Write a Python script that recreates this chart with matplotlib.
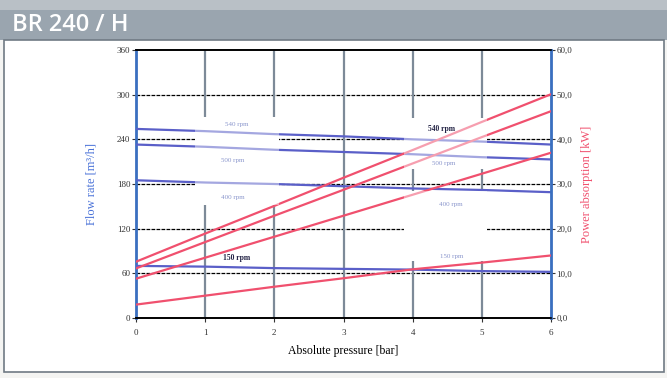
import numpy as np
import matplotlib.pyplot as plt
from matplotlib.patches import Rectangle

# data
pressure = [0, 1, 2, 3, 4, 5, 6]

flow_540 = [254, 251, 247, 244, 240, 237, 233]
flow_500 = [233, 230, 226, 223, 220, 216, 213]
flow_400 = [185, 182, 180, 177, 174, 172, 169]
flow_150 = [70, 69, 67, 66, 65, 63, 62]

power_a = [12.6, 18.9, 25.1, 31.4, 37.6, 43.9, 50.1]
power_b = [11.1, 17.0, 22.9, 28.7, 34.6, 40.5, 46.3]
power_c = [8.8, 13.5, 18.2, 22.9, 27.6, 32.3, 37.0]
power_d = [3.0, 5.0, 7.0, 8.9, 10.9, 12.4, 14.0]

flow_ticks = [0, 60, 120, 180, 240, 300, 360]
power_ticks = [0, 10, 20, 30, 40, 50, 60]
power_labels = ["0,0", "10,0", "20,0", "30,0", "40,0", "50,0", "60,0"]

# faded rpm labels sitting in the white boxes: (text, x, flow)
faded_labels = [
    ("540 rpm", 1.45, 260), ("500 rpm", 1.4, 212), ("400 rpm", 1.4, 162),
    ("500 rpm", 4.45, 208), ("400 rpm", 4.55, 152), ("150 rpm", 4.57, 83),
]
# dark rpm labels drawn on top
dark_labels = [("540 rpm", 4.42, 254), ("150 rpm", 1.45, 81)]

# white label boxes: (x0, x1, flow0, flow1)
label_boxes = [(0.86, 2.07, 152, 270), (3.88, 5.07, 200, 268), (3.88, 5.07, 76, 170)]

BLUE = "#5a5fc8"
RED = "#f0506e"
serif = ["Liberation Serif", "DejaVu Serif"]

fig = plt.figure(figsize=(6.67, 3.78), dpi=100)
fig.patch.set_facecolor("#f4f4f2")

# header bar and white panel (behind the axes)
fig.add_artist(Rectangle((0, 1 - 40 / 378), 1, 40 / 378, transform=fig.transFigure,
                         facecolor="#9aa5af", edgecolor="none", zorder=-5))
fig.add_artist(Rectangle((0, 1 - 10 / 378), 1, 10 / 378, transform=fig.transFigure,
                         facecolor="#b9c0c6", edgecolor="none", zorder=-5))
fig.add_artist(Rectangle((4 / 667, 1 - 372 / 378), 660 / 667, 332 / 378, transform=fig.transFigure,
                         facecolor="white", edgecolor="#707a84", linewidth=1.2, zorder=-5))
fig.text(12 / 667, 1 - 25 / 378, "BR 240 / H", color="white", fontsize=17, weight="semibold",
         family=["Open Sans", "DejaVu Sans"], va="center", ha="left")

ax = fig.add_axes([136 / 667, 1 - 318 / 378, 415 / 667, 268 / 378])
ax2 = ax.twinx()
ax.patch.set_alpha(0)

ax.set_xlim(0, 6)
ax.set_ylim(0, 360)
ax2.set_ylim(0, 60)

# grid
for v in flow_ticks[1:-1]:
    ax.axhline(v, color="black", linestyle=(0, (3, 1)), linewidth=0.9, zorder=1)
for p in pressure[1:-1]:
    ax.axvline(p, color="#7d8a98", linewidth=1.6, zorder=1)

# boxes hide the grid and fade the curves behind them
for x0, x1, y0, y1 in label_boxes:
    ax.add_patch(Rectangle((x0, y0), x1 - x0, y1 - y0, facecolor="white", edgecolor="none", zorder=2))

for f in [flow_540, flow_500, flow_400, flow_150]:
    ax.plot(pressure, f, color=BLUE, linewidth=1.6, zorder=3)
for pw in [power_a, power_b, power_c, power_d]:
    ax2.plot(pressure, pw, color=RED, linewidth=1.6, zorder=3)

ax2.patch.set_visible(False)
for x0, x1, y0, y1 in label_boxes:
    ax2.add_patch(Rectangle((x0, y0 / 6), x1 - x0, (y1 - y0) / 6, facecolor="white",
                            edgecolor="none", alpha=0.45, zorder=4))

for txt, x, y in faded_labels:
    ax2.text(x, y / 6, txt, fontsize=5, color="#8a96cc", family=serif, ha="center", va="center", zorder=5)
for txt, x, y in dark_labels:
    ax2.text(x, y / 6, txt, fontsize=5.5, color="#222244", weight="bold", family=serif,
             ha="center", va="center", zorder=5)

ax.set_xticks(pressure)
ax.set_yticks(flow_ticks)
ax2.set_yticks(power_ticks)
ax2.set_yticklabels(power_labels)
for a in [ax, ax2]:
    a.tick_params(labelsize=6.5, length=3, width=0.8, colors="#333333", pad=1)
    for lab in a.get_xticklabels() + a.get_yticklabels():
        lab.set_family(serif)
ax.tick_params(axis="x", pad=5)

ax.spines["left"].set_color("#3a6fc0")
ax.spines["left"].set_linewidth(2)
ax2.spines["right"].set_color("#3a6fc0")
ax2.spines["right"].set_linewidth(2)
for a in [ax, ax2]:
    a.spines["top"].set_linestyle((0, (3, 1)))
    a.spines["bottom"].set_linestyle((0, (3, 1)))
    a.spines["top"].set_linewidth(1.2)
    a.spines["bottom"].set_linewidth(1.2)
ax2.spines["left"].set_visible(False)

ax.set_xlabel("Absolute pressure [bar]", fontsize=8.5, family=serif, labelpad=6)
ax.set_ylabel("Flow rate [m³/h]", fontsize=9, family=serif, color="#4a72d8", labelpad=14)
ax2.set_ylabel("Power absorption [kW]", fontsize=9, family=serif, color=RED, labelpad=6)

fig.savefig("out.png", dpi=100)
